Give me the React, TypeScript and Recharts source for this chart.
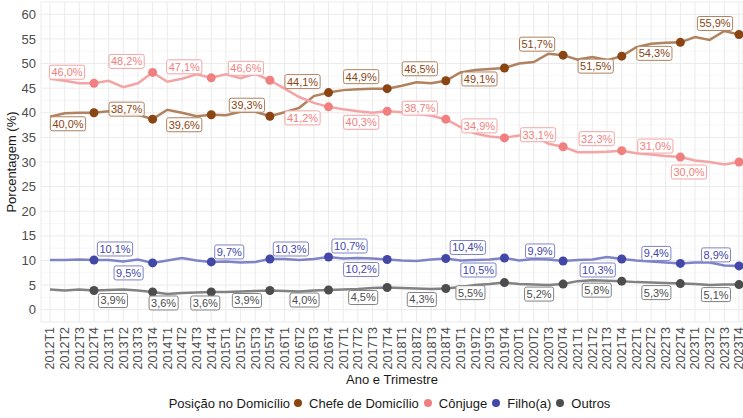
import { LineChart, Line, XAxis, YAxis, CartesianGrid, Legend } from 'recharts'

const QUARTERS = [
  '2012T1', '2012T2', '2012T3', '2012T4', '2013T1', '2013T2', '2013T3', '2013T4',
  '2014T1', '2014T2', '2014T3', '2014T4', '2015T1', '2015T2', '2015T3', '2015T4',
  '2016T1', '2016T2', '2016T3', '2016T4', '2017T1', '2017T2', '2017T3', '2017T4',
  '2018T1', '2018T2', '2018T3', '2018T4', '2019T1', '2019T2', '2019T3', '2019T4',
  '2020T1', '2020T2', '2020T3', '2020T4', '2021T1', '2021T2', '2021T3', '2021T4',
  '2022T1', '2022T2', '2022T3', '2022T4', '2023T1', '2023T2', '2023T3', '2023T4',
]

const CHEFE = [
  39.2, 39.9, 40.0, 40.0, 40.3, 39.9, 39.6, 38.7, 40.6, 40.0, 39.3, 39.6,
  39.5, 40.2, 40.2, 39.3, 40.1, 41.0, 43.4, 44.1, 44.6, 44.8, 44.9, 44.9,
  45.5, 46.2, 46.0, 46.5, 48.2, 48.7, 48.9, 49.1, 50.0, 50.3, 52.0, 51.7,
  50.8, 51.3, 50.7, 51.5, 53.3, 54.0, 54.2, 54.3, 55.4, 54.8, 56.6, 55.9,
]

const CONJUGE = [
  46.9, 46.5, 46.0, 46.0, 46.5, 45.2, 46.0, 48.2, 46.3, 46.9, 47.8, 47.1,
  47.8, 47.0, 47.9, 46.6, 44.9, 43.2, 42.0, 41.2, 40.7, 40.3, 40.0, 40.3,
  40.1, 39.8, 39.4, 38.7, 37.1, 35.8, 35.2, 34.9, 35.4, 35.4, 33.7, 33.1,
  32.0, 32.0, 32.1, 32.3, 31.8, 31.5, 31.2, 31.0, 30.3, 30.0, 29.5, 30.0,
]

const FILHO = [
  10.1, 10.1, 10.2, 10.1, 10.1, 9.8, 10.2, 9.5, 10.0, 10.5, 10.0, 9.7,
  9.8, 9.6, 9.7, 10.3, 10.3, 10.1, 10.3, 10.7, 10.4, 10.5, 10.4, 10.2,
  10.0, 9.9, 10.2, 10.4, 10.0, 10.1, 10.2, 10.5, 10.0, 10.3, 10.2, 9.9,
  10.1, 10.2, 10.7, 10.3, 10.0, 9.8, 9.6, 9.4, 9.6, 9.6, 9.0, 8.9,
]

const OUTROS = [
  4.1, 3.9, 4.1, 3.9, 4.0, 4.1, 3.9, 3.6, 3.2, 3.4, 3.5, 3.6,
  3.6, 3.7, 3.8, 3.9, 3.8, 3.7, 3.9, 4.0, 4.1, 4.2, 4.4, 4.5,
  4.4, 4.3, 4.2, 4.3, 4.6, 5.0, 5.2, 5.5, 5.2, 5.1, 5.0, 5.2,
  5.8, 6.0, 5.9, 5.8, 5.6, 5.5, 5.4, 5.3, 5.2, 5.0, 5.1, 5.1,
]

const Y_TICKS = [0, 5, 10, 15, 20, 25, 30, 35, 40, 45, 50, 55, 60]
const Y_MINOR = [2.5, 7.5, 12.5, 17.5, 22.5, 27.5, 32.5, 37.5, 42.5, 47.5, 52.5, 57.5]

// label nudges (dx, dy) for each marked quarter, in px
const CHEFE_NUDGE = [[-26, 11], [-26, -10], [-27, 10], [-23, -11], [-26, -11], [-26, -12], [-26, -12], [-25, 11], [-26, -11], [-26, 10], [-26, 11], [-24, -11]]
const CONJUGE_NUDGE = [[-27, -11], [-26, -11], [-27, -11], [-24, -12], [-26, 11], [-26, 11], [-26, -11], [-25, -12], [-25, -12], [-25, -12], [-25, -11], [-50, 10]]
const FILHO_NUDGE = [[21, -11], [-24, 10], [18, -10], [21, -10], [21, -11], [-26, 10], [22, -11], [-26, 12], [-23, -10], [-24, 11], [-24, -10], [-23, -11]]
const OUTROS_NUDGE = [[19, 10], [11, 11], [-6, 11], [-23, 10], [-24, 10], [-24, 10], [-24, 11], [-34, 10], [-24, 10], [-25, 9], [-24, 9], [-23, 10]]

const SERIES = [
  { key: 'chefe', name: 'Chefe de Domicílio', dot: '#8B4513', line: '#b0825f', text: '#8B4513', nudge: CHEFE_NUDGE },
  { key: 'conjuge', name: 'Cônjuge', dot: '#F08080', line: '#f4a4a4', text: '#F08080', nudge: CONJUGE_NUDGE },
  { key: 'filho', name: 'Filho(a)', dot: '#4347A8', line: '#7f83c8', text: '#4347A8', nudge: FILHO_NUDGE },
  { key: 'outros', name: 'Outros', dot: '#4D4D4D', line: '#828282', text: '#4D4D4D', nudge: OUTROS_NUDGE },
]

const data = QUARTERS.map((q, i) => ({
  q,
  chefe: CHEFE[i],
  conjuge: CONJUGE[i],
  filho: FILHO[i],
  outros: OUTROS[i],
}))

const FONT = '"Liberation Sans", Arial, sans-serif'

const isMarked = (i: number) => i % 4 === 3

const fmt = (v: number) => v.toFixed(1).replace('.', ',') + '%'

// rough Arial advance widths at 11px
const labelWidth = (s: string) => {
  let w = 0
  for (const ch of s) w += ch === ',' ? 3.06 : ch === '%' ? 9.78 : 6.12
  return w + 4
}

const markerDot = (color: string) => (props: any) => {
  const { cx, cy, index } = props
  if (!isMarked(index)) return <g key={`m${index}`} />
  return <circle key={`m${index}`} cx={cx} cy={cy} r={4.5} fill={color} />
}

const labelDot = (s: typeof SERIES[number]) => (props: any) => {
  const { cx, cy, index, payload } = props
  if (!isMarked(index)) return <g key={`l${index}`} />
  const [dx, dy] = s.nudge[(index - 3) / 4]
  const text = fmt(payload[s.key])
  const w = labelWidth(text)
  const x = cx + dx
  const y = cy + dy
  return (
    <g key={`l${index}`}>
      <rect x={x - w / 2} y={y - 7} width={w} height={14} rx={2} fill="#fff" fillOpacity={0.9} stroke={s.line} strokeWidth={1} />
      <text x={x} y={y} dy="0.36em" textAnchor="middle" fontSize={11} fontFamily={FONT} fill={s.text}>
        {text}
      </text>
    </g>
  )
}

const QuarterTick = ({ x, y, payload }: any) => (
  <text
    x={x}
    y={y}
    transform={`rotate(-90 ${x} ${y})`}
    textAnchor="end"
    dy="0.35em"
    fontSize={12.5}
    fontFamily={FONT}
    fill="#4d4d4d"
  >
    {payload.value}
  </text>
)

const renderLegend = () => (
  <div
    style={{
      width: 743,
      height: 30,
      boxSizing: 'border-box',
      paddingLeft: 41,
      display: 'flex',
      alignItems: 'center',
      justifyContent: 'center',
      fontFamily: FONT,
      fontSize: 13,
      color: '#1a1a1a',
    }}
  >
    <span style={{ marginRight: 4 }}>Posição no Domicílio</span>
    {SERIES.map((s) => (
      <span key={s.key} style={{ display: 'flex', alignItems: 'center', marginRight: 5 }}>
        <span style={{ width: 8, height: 8, borderRadius: 4, background: s.dot, marginRight: 7 }} />
        {s.name}
      </span>
    ))}
  </div>
)

export default function App() {
  return (
    <div style={{ position: 'absolute', left: 0, top: 0, fontFamily: FONT }}>
      <LineChart width={743} height={418} data={data} margin={{ top: 2, right: 0, bottom: 0, left: 0 }}>
        <CartesianGrid horizontalValues={Y_MINOR} vertical={false} stroke="#f2f2f2" strokeWidth={0.6} />
        <CartesianGrid stroke="#ebebeb" strokeWidth={1} />
        <XAxis
          dataKey="q"
          interval={0}
          tick={<QuarterTick />}
          axisLine={false}
          tickLine={false}
          tickSize={0}
          tickMargin={5}
          height={66}
          padding={{ left: 9, right: 4 }}
          label={{ value: 'Ano e Trimestre', position: 'insideBottom', offset: 4, fontSize: 13, fill: '#1a1a1a', fontFamily: FONT }}
        />
        <YAxis
          domain={[-2.5, 62.5]}
          ticks={Y_TICKS}
          interval={0}
          allowDataOverflow
          width={41}
          axisLine={false}
          tickLine={false}
          tickSize={0}
          tickMargin={5}
          tick={{ fontSize: 13, fill: '#4d4d4d', fontFamily: FONT }}
          label={{
            value: 'Porcentagem (%)',
            angle: -90,
            position: 'insideLeft',
            offset: 11,
            fontSize: 13,
            fill: '#1a1a1a',
            fontFamily: FONT,
            style: { textAnchor: 'middle' },
          }}
        />
        <Legend verticalAlign="bottom" content={renderLegend} />
        {SERIES.map((s) => (
          <Line
            key={s.key}
            type="linear"
            dataKey={s.key}
            name={s.name}
            stroke={s.line}
            strokeWidth={2.5}
            dot={markerDot(s.dot)}
            activeDot={false}
            isAnimationActive={false}
          />
        ))}
        {SERIES.map((s) => (
          <Line
            key={`${s.key}-labels`}
            type="linear"
            dataKey={s.key}
            stroke="none"
            legendType="none"
            dot={labelDot(s)}
            activeDot={false}
            isAnimationActive={false}
          />
        ))}
      </LineChart>
    </div>
  )
}
